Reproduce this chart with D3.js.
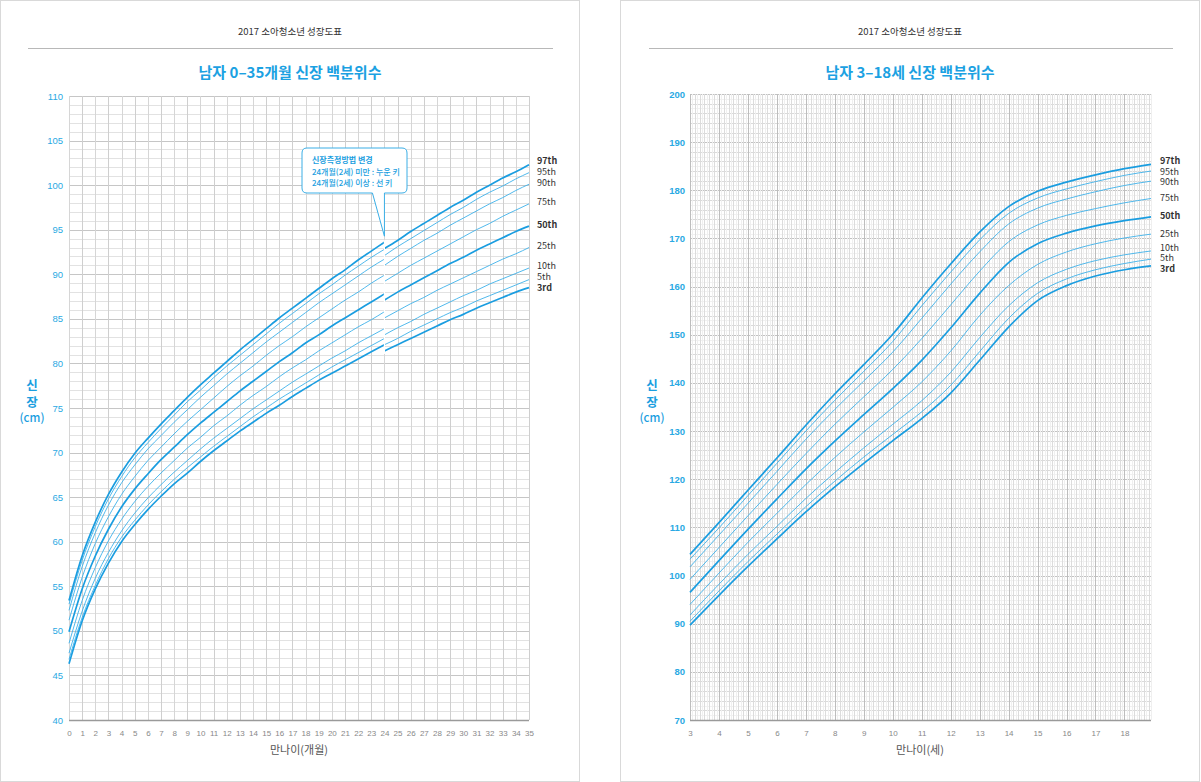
<!DOCTYPE html>
<html><head><meta charset="utf-8">
<script src="https://cdn.jsdelivr.net/npm/d3@7"></script>
<style>
body{margin:0;background:#fff;}
svg{display:block;font-family:"Noto Sans CJK KR","Noto Sans",sans-serif;}
</style></head><body>
<svg id="c" width="1201" height="782"></svg>
<script>
// ---------- DATA ----------
const percentiles = ["3rd","5th","10th","25th","50th","75th","90th","95th","97th"];
const boldPercentiles = ["3rd","50th","97th"];

// 0-24 months (recumbent length), boys
const infantMonths = [0,1,2,3,4,5,6,7,8,9,10,11,12,13,14,15,16,17,18,19,20,21,22,23,24];
const infantP3  = [46.3,51.1,54.7,57.6,60.0,61.9,63.6,65.1,66.5,67.7,69.0,70.2,71.3,72.4,73.4,74.4,75.3,76.3,77.2,78.1,78.9,79.7,80.5,81.3,82.1];
const infantP5  = [46.8,51.5,55.1,58.1,60.5,62.4,64.1,65.6,67.0,68.3,69.5,70.7,71.8,72.9,74.0,75.0,76.0,76.9,77.8,78.7,79.6,80.4,81.2,82.0,82.8];
const infantP10 = [47.5,52.2,55.9,58.8,61.2,63.2,64.9,66.4,67.8,69.1,70.4,71.6,72.7,73.8,74.9,75.9,76.9,77.9,78.8,79.7,80.6,81.4,82.3,83.1,83.9];
const infantP25 = [48.6,53.4,57.1,60.1,62.5,64.5,66.2,67.7,69.1,70.5,71.7,73.0,74.1,75.3,76.4,77.4,78.5,79.5,80.4,81.4,82.3,83.2,84.1,84.9,85.8];
const infantP50 = [49.9,54.7,58.4,61.4,63.9,65.9,67.6,69.2,70.6,72.0,73.3,74.5,75.7,76.9,78.0,79.1,80.2,81.2,82.3,83.2,84.2,85.1,86.0,86.9,87.8];
const infantP75 = [51.2,56.0,59.8,62.8,65.3,67.3,69.1,70.6,72.1,73.5,74.8,76.1,77.4,78.6,79.7,80.9,82.0,83.0,84.1,85.1,86.1,87.1,88.0,89.0,89.9];
const infantP90 = [52.3,57.2,61.0,64.1,66.6,68.6,70.4,71.9,73.4,74.8,76.2,77.5,78.8,80.0,81.2,82.4,83.5,84.6,85.7,86.8,87.8,88.8,89.8,90.8,91.7];
const infantP95 = [53.0,57.9,61.7,64.8,67.3,69.4,71.1,72.7,74.2,75.7,77.0,78.4,79.7,80.9,82.1,83.3,84.5,85.6,86.7,87.8,88.8,89.9,90.9,91.9,92.8];
const infantP97 = [53.4,58.4,62.2,65.3,67.8,69.9,71.6,73.2,74.7,76.2,77.6,78.9,80.2,81.5,82.7,83.9,85.1,86.2,87.3,88.4,89.5,90.5,91.6,92.6,93.6];

// 24-35 months (standing height), boys
const toddlerMonths = [24,25,26,27,28,29,30,31,32,33,34,35];
const toddlerP3  = [81.4,82.1,82.8,83.5,84.2,84.9,85.5,86.2,86.8,87.4,88.0,88.5];
const toddlerP5  = [82.1,82.8,83.6,84.3,85.0,85.7,86.3,87.0,87.6,88.2,88.8,89.4];
const toddlerP10 = [83.2,84.0,84.7,85.5,86.2,86.9,87.6,88.2,88.9,89.5,90.1,90.7];
const toddlerP25 = [85.1,85.9,86.7,87.4,88.2,88.9,89.6,90.3,91.0,91.7,92.3,93.0];
const toddlerP50 = [87.1,88.0,88.8,89.6,90.4,91.2,91.9,92.7,93.4,94.1,94.8,95.4];
const toddlerP75 = [89.2,90.1,91.0,91.8,92.6,93.4,94.2,95.0,95.7,96.5,97.2,97.9];
const toddlerP90 = [91.0,92.0,92.9,93.8,94.6,95.5,96.3,97.1,97.9,98.6,99.4,100.1];
const toddlerP95 = [92.1,93.1,94.0,94.9,95.8,96.7,97.5,98.4,99.2,99.9,100.7,101.4];
const toddlerP97 = [92.9,93.8,94.8,95.7,96.6,97.5,98.3,99.2,100.0,100.8,101.5,102.3];

// 3-18 years, boys
const childAges = [3,4,5,6,7,8,9,10,11,12,13,14,15,16,17,18,18.917];
const childP3  = [89.7,95.9,101.9,107.6,113.2,118.4,123.3,128.0,132.6,137.9,144.7,151.6,157.1,160.2,162.2,163.5,164.3];
const childP5  = [90.5,96.8,102.9,108.6,114.3,119.6,124.6,129.3,134.0,139.5,146.5,153.4,158.6,161.6,163.5,164.8,165.7];
const childP10 = [91.8,98.2,104.4,110.2,116.0,121.4,126.5,131.4,136.3,142.2,149.4,156.0,160.8,163.6,165.4,166.6,167.4];
const childP25 = [94.0,100.5,106.9,112.9,118.9,124.5,129.8,134.9,140.2,146.6,154.0,160.2,164.6,167.2,168.9,170.1,170.9];
const childP50 = [96.5,103.1,109.6,115.9,122.1,127.9,133.4,138.8,144.7,151.4,158.6,165.0,168.9,171.1,172.6,173.7,174.5];
const childP75 = [99.2,105.8,112.4,118.9,125.3,131.4,137.1,142.8,149.2,156.2,163.2,169.3,172.8,174.8,176.2,177.4,178.3];
const childP90 = [101.8,108.4,115.0,121.6,128.3,134.5,140.4,146.4,153.4,160.5,167.2,173.0,176.3,178.2,179.7,181.0,181.9];
const childP95 = [103.4,109.9,116.6,123.3,130.0,136.4,142.4,148.6,156.0,163.0,169.7,175.2,178.4,180.3,181.8,183.1,184.0];
const childP97 = [104.4,111.0,117.7,124.4,131.2,137.7,143.8,150.1,157.6,164.7,171.3,176.6,179.8,181.7,183.2,184.5,185.4];

const monthTicks = [0,1,2,3,4,5,6,7,8,9,10,11,12,13,14,15,16,17,18,19,20,21,22,23,24,25,26,27,28,29,30,31,32,33,34,35];
const ageTicks = [3,4,5,6,7,8,9,10,11,12,13,14,15,16,17,18];
const infantYTicks = [40,45,50,55,60,65,70,75,80,85,90,95,100,105,110];
const childYTicks = [70,80,90,100,110,120,130,140,150,160,170,180,190,200];

const headerText = "2017 소아청소년 성장도표";
const leftTitle = "남자 0–35개월 신장 백분위수";
const rightTitle = "남자 3–18세 신장 백분위수";
const leftXTitle = "만나이(개월)";
const rightXTitle = "만나이(세)";
const calloutLines = ["신장측정방법 변경","24개월(2세) 미만 : 누운 키","24개월(2세) 이상 : 선 키"];

// ---------- DRAW ----------
const infantSeries = [infantP3,infantP5,infantP10,infantP25,infantP50,infantP75,infantP90,infantP95,infantP97];
const toddlerSeries = [toddlerP3,toddlerP5,toddlerP10,toddlerP25,toddlerP50,toddlerP75,toddlerP90,toddlerP95,toddlerP97];
const childSeries = [childP3,childP5,childP10,childP25,childP50,childP75,childP90,childP95,childP97];

const svg = d3.select("#c");
const BLUE = "#1a9de0", BLUE_THIN = "#3db1ea", AXISBLUE = "#2aa9e3";

function panel(x0, w, cx, lineX0, lineX1, title) {
  svg.append("rect").attr("x", x0 + 0.5).attr("y", 0.5).attr("width", w).attr("height", 781)
    .attr("fill", "#fff").attr("stroke", "#d9d9d9");
  svg.append("text").attr("x", cx).attr("y", 35).attr("text-anchor", "middle")
    .attr("font-size", 9.5).attr("fill", "#333").text(headerText);
  svg.append("line").attr("x1", lineX0).attr("x2", lineX1).attr("y1", 48.5).attr("y2", 48.5)
    .attr("stroke", "#b8b8b8").attr("stroke-width", 1);
  svg.append("text").attr("x", cx).attr("y", 77.5).attr("text-anchor", "middle")
    .attr("font-size", 15).attr("font-weight", "bold").attr("fill", "#1ba1e2").text(title);
}
panel(0, 579, 290, 28, 553, leftTitle);
panel(620, 579, 910, 649, 1173, rightTitle);

function yLabel(cx) {
  const g = svg.append("g").attr("fill", "#1a9ee0").attr("text-anchor", "middle");
  g.append("text").attr("x", cx).attr("y", 390).attr("font-size", 12.5).attr("font-weight", "bold").text("신");
  g.append("text").attr("x", cx).attr("y", 407).attr("font-size", 12.5).attr("font-weight", "bold").text("장");
  g.append("text").attr("x", cx).attr("y", 422).attr("font-size", 11.5).attr("font-weight", "500").text("(cm)");
}

function placeLabels(items, gap) {
  items.sort((a, b) => a.y - b.y);
  for (let it = 0; it < 60; it++) {
    for (let i = 1; i < items.length; i++) {
      const d = items[i].y - items[i - 1].y;
      if (d < gap) { const s = (gap - d) / 2; items[i].y += s; items[i - 1].y -= s; }
    }
  }
  return items;
}

const lineGen = (x, y) => d3.line().x(d => x(d[0])).y(d => y(d[1])).curve(d3.curveMonotoneX);

// ===== LEFT CHART =====
{
  const x = d3.scaleLinear().domain([0, 35]).range([69, 529]);
  const y = d3.scaleLinear().domain([40, 110]).range([720, 96]);
  const g = svg.append("g");
  g.selectAll(".hg").data(d3.range(40, 111)).join("line")
    .attr("x1", x(0)).attr("x2", x(35)).attr("y1", d => Math.round(y(d)) + 0.5).attr("y2", d => Math.round(y(d)) + 0.5)
    .attr("stroke", d => d % 5 === 0 ? "#c6c6c6" : "#e2e2e2");
  g.selectAll(".vg").data(d3.range(0, 36)).join("line")
    .attr("x1", d => Math.round(x(d)) + 0.5).attr("x2", d => Math.round(x(d)) + 0.5).attr("y1", y(110)).attr("y2", y(40))
    .attr("stroke", d => d % 2 === 1 ? "#cfcfcf" : "#d6d6d6");
  g.append("line").attr("x1", x(0)).attr("x2", x(35)).attr("y1", y(40) + 0.5).attr("y2", y(40) + 0.5)
    .attr("stroke", "#9a9a9a").attr("stroke-width", 1.5);
  const xa = g.append("g").attr("transform", `translate(0,${y(40)})`)
    .call(d3.axisBottom(x).tickValues(monthTicks).tickSize(0).tickPadding(10).tickFormat(d3.format("d")));
  xa.select(".domain").remove();
  xa.selectAll("text").attr("fill", "#888").attr("font-size", 8).attr("font-family", "inherit");
  const ya = g.append("g").attr("transform", `translate(${x(0)},0)`)
    .call(d3.axisLeft(y).tickValues(infantYTicks).tickSize(0).tickPadding(6));
  ya.select(".domain").remove();
  ya.selectAll("text").attr("fill", AXISBLUE).attr("font-size", 9.5).attr("font-family", "inherit");
  g.append("text").attr("x", x(17.5)).attr("y", 754).attr("text-anchor", "middle")
    .attr("font-size", 11).attr("fill", "#555").text(leftXTitle);
  yLabel(32);

  percentiles.forEach((p, i) => {
    const bold = boldPercentiles.includes(p);
    const inf = infantMonths.map((m, j) => [m, infantSeries[i][j]]);
    const tod = toddlerMonths.map((m, j) => [m, toddlerSeries[i][j]]);
    [inf, tod].forEach(seg => {
      g.append("path").attr("d", lineGen(x, y)(seg)).attr("fill", "none")
        .attr("stroke", bold ? BLUE : BLUE_THIN).attr("stroke-width", bold ? 1.7 : 0.9);
    });
  });
  g.append("line").attr("x1", x(24)).attr("x2", x(24))
    .attr("y1", y(d3.max(infantSeries, s => s[s.length - 1])) - 2)
    .attr("y2", y(d3.min(toddlerSeries, s => s[0])) + 3)
    .attr("stroke", "#fff").attr("stroke-width", 1.2);

  const items = placeLabels(percentiles.map((p, i) => ({ p, y: y(toddlerSeries[i][toddlerSeries[i].length - 1]) - 2 })), 11);
  items.forEach(it => {
    g.append("text").attr("x", x(35) + 8).attr("y", it.y + 3.5).attr("font-size", 9)
      .attr("fill", "#333").attr("font-weight", boldPercentiles.includes(it.p) ? "bold" : "normal").text(it.p);
  });

  // callout
  const tipX = x(24), tipY = y(d3.max(infantSeries, s => s[s.length - 1])) - 6;
  const bx = 302, by = 148, bw = 105, bh = 45;
  const c = g.append("g");
  c.append("path").attr("d",
    `M${bx + 5},${by} H${bx + bw - 5} Q${bx + bw},${by} ${bx + bw},${by + 5} V${by + bh - 5} Q${bx + bw},${by + bh} ${bx + bw - 5},${by + bh} ` +
    `H${tipX} L${tipX},${tipY} L${tipX - 12},${by + bh} H${bx + 5} Q${bx},${by + bh} ${bx},${by + bh - 5} V${by + 5} Q${bx},${by} ${bx + 5},${by} Z`)
    .attr("fill", "#fff").attr("stroke", "#3aaee6").attr("stroke-width", 1);
  calloutLines.forEach((t, i) => {
    c.append("text").attr("x", bx + 10).attr("y", by + 15 + i * 11.5).attr("font-size", 8)
      .attr("font-weight", i === 0 ? "bold" : "500").attr("fill", "#1a9ee0").text(t);
  });
}

// ===== RIGHT CHART =====
{
  const x = d3.scaleLinear().domain([3, 18 + 11 / 12]).range([690, 1151]);
  const y = d3.scaleLinear().domain([70, 200]).range([720, 94]);
  const g = svg.append("g");
  g.selectAll(".hg").data(d3.range(70, 201)).join("line")
    .attr("x1", x(3)).attr("x2", x(18 + 11 / 12)).attr("y1", d => Math.round(y(d)) + 0.5).attr("y2", d => Math.round(y(d)) + 0.5)
    .attr("stroke", d => d % 10 === 0 ? "#c2c2c2" : d % 2 === 0 ? "#dadada" : "#f1f1f1");
  g.selectAll(".vg").data(d3.range(36, 228)).join("line")
    .attr("x1", d => Math.round(x(d / 12)) + 0.5).attr("x2", d => Math.round(x(d / 12)) + 0.5).attr("y1", y(200)).attr("y2", y(70))
    .attr("stroke", d => d % 12 === 0 ? "#bdbdbd" : d % 2 === 0 ? "#dcdcdc" : "#efefef");
  g.append("line").attr("x1", x(3)).attr("x2", x(18 + 11 / 12)).attr("y1", y(70) + 0.5).attr("y2", y(70) + 0.5)
    .attr("stroke", "#9a9a9a").attr("stroke-width", 1.5);
  const xa = g.append("g").attr("transform", `translate(0,${y(70)})`)
    .call(d3.axisBottom(x).tickValues(ageTicks).tickSize(0).tickPadding(10).tickFormat(d3.format("d")));
  xa.select(".domain").remove();
  xa.selectAll("text").attr("fill", "#888").attr("font-size", 8).attr("font-family", "inherit");
  const ya = g.append("g").attr("transform", `translate(${x(3)},0)`)
    .call(d3.axisLeft(y).tickValues(childYTicks).tickSize(0).tickPadding(5));
  ya.select(".domain").remove();
  ya.selectAll("text").attr("fill", AXISBLUE).attr("font-size", 9.5).attr("font-weight", "600").attr("font-family", "inherit");
  g.append("text").attr("x", 920).attr("y", 754).attr("text-anchor", "middle")
    .attr("font-size", 11).attr("fill", "#555").text(rightXTitle);
  yLabel(652);

  percentiles.forEach((p, i) => {
    const bold = boldPercentiles.includes(p);
    const pts = childAges.map((a, j) => [a, childSeries[i][j]]);
    g.append("path").attr("d", lineGen(x, y)(pts)).attr("fill", "none")
      .attr("stroke", bold ? BLUE : BLUE_THIN).attr("stroke-width", bold ? 1.7 : 0.9);
  });
  const items = placeLabels(percentiles.map((p, i) => ({ p, y: y(childSeries[i][childSeries[i].length - 1]) - 1 })), 10.5);
  items.forEach(it => {
    g.append("text").attr("x", x(18 + 11 / 12) + 9).attr("y", it.y + 3.5).attr("font-size", 9)
      .attr("fill", "#333").attr("font-weight", boldPercentiles.includes(it.p) ? "bold" : "normal").text(it.p);
  });
}
</script>
</body></html>
